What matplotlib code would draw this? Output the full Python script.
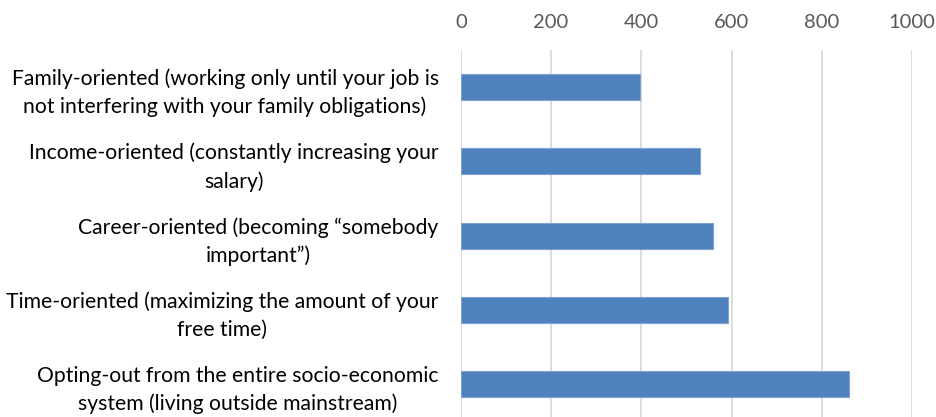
import matplotlib.pyplot as plt

categories = [
    "Family-oriented (working only until your job is\nnot interfering with your family obligations)",
    "Income-oriented (constantly increasing your\nsalary)",
    "Career-oriented (becoming \u201csomebody\nimportant\u201d)",
    "Time-oriented (maximizing the amount of your\nfree time)",
    "Opting-out from the entire socio-economic\nsystem (living outside mainstream)",
]
values = [397, 530, 558, 592, 861]
xticks = [0, 200, 400, 600, 800, 1000]

plt.rcParams['font.family'] = ['Lato', 'DejaVu Sans']

fig = plt.figure(figsize=(9.36, 4.17), dpi=100)
ax = fig.add_axes([460.9 / 936, -4.5 / 417, 451.1 / 936, 371.5 / 417])

pos = list(range(len(categories)))
ax.barh(pos, values, height=0.35, color='#4f81bd', edgecolor='#7fa3cf', linewidth=0.8, zorder=3)

ax.set_xlim(0, 1000)
ax.set_ylim(4.5, -0.5)
ax.set_xticks(xticks)
ax.set_xticklabels([str(t) for t in xticks])
ax.xaxis.tick_top()
ax.tick_params(axis='x', length=0, pad=14, labelsize=14.5, colors='#595959')
ax.set_yticks(pos)
ax.set_yticklabels(categories, multialignment='center', linespacing=1.45)
ax.tick_params(axis='y', length=0, pad=16, labelsize=15.2, colors='#000000')
ax.grid(axis='x', color='#d9d9d9', linewidth=1.3, zorder=0)
for s in ax.spines.values():
    s.set_visible(False)

fig.savefig('out.png', dpi=100)
